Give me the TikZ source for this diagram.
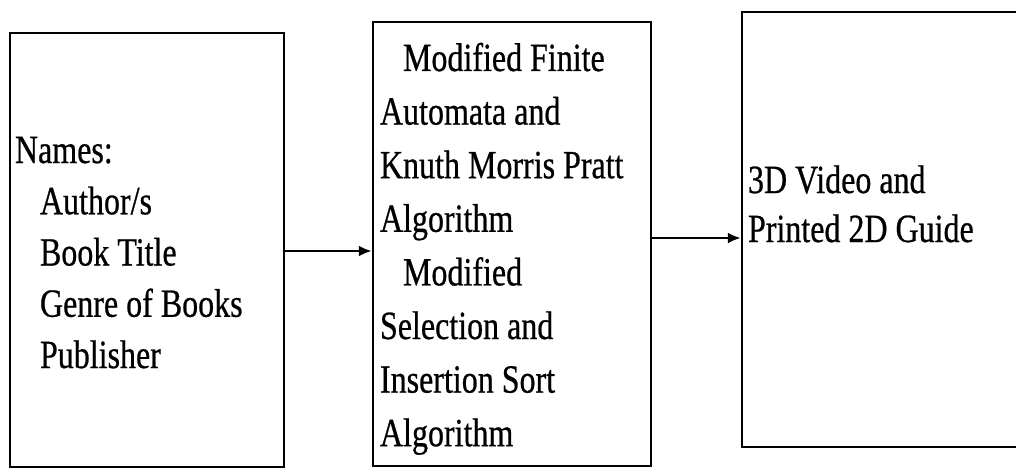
\documentclass[tikz,border=0pt]{standalone}
\usepackage{fontspec}
\setmainfont[FakeBold=0.7]{Liberation Serif}
\usetikzlibrary{arrows.meta}

% condensed serif text block, first baseline at the node's base anchor
\newcommand{\blocktext}[2]{%
  \fontsize{40}{#1}\selectfont
  \scalebox{0.8}[1]{\begin{tabular}[t]{@{}l@{}}#2\end{tabular}}}

\tikzset{
  stagebox/.style={draw=black, line width=2.3pt, fill=none, inner sep=0pt},
  txt/.style={inner sep=0pt, outer sep=0pt, anchor=base west, text=black},
  flow/.style={line width=2.8pt, -{Latex[length=13pt,width=11pt]}}
}

\begin{document}
\begin{tikzpicture}[x=1pt,y=-1pt]
  \useasboundingbox (0,0) rectangle (1016,468);
  \clip (0,0) rectangle (1016,468);
  \fill[white] (0,0) rectangle (1016,468);

  % the three stages
  \node[stagebox, minimum width=274pt, minimum height=434pt] (input) at (147,250) {};
  \node[stagebox, minimum width=278pt, minimum height=444pt] (process) at (512,244) {};
  \node[stagebox, minimum width=288pt, minimum height=435pt] (output) at (886,229.5) {};

  % contents of the stages
  \node[txt] (inputtext) at (15,163) {\blocktext{51.25pt}{%
    Names:\\
    \hspace{31.25pt}Author/s\\
    \hspace{31.25pt}Book Title\\
    \hspace{31.25pt}Genre of Books\\
    \hspace{31.25pt}Publisher}};

  \node[txt] (processtext) at (380,71) {\blocktext{53.6pt}{%
    \hspace{28.75pt}Modified Finite\\
    Automata and\\
    Knuth Morris Pratt\\
    Algorithm\\
    \hspace{28.75pt}Modified\\
    Selection and\\
    Insertion Sort\\
    Algorithm}};

  \node[txt] (outputtext) at (748,193) {\blocktext{49pt}{%
    3D Video and\\
    Printed 2D Guide}};

  % flow between stages
  \draw[flow] (input.east |- 0,251) -- (process.west |- 0,251);
  \draw[flow] (process.east |- 0,238) -- (output.west |- 0,238);
\end{tikzpicture}
\end{document}
